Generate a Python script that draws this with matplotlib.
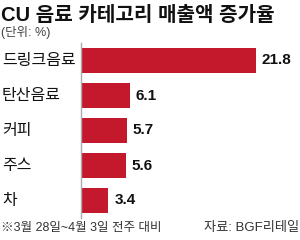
import matplotlib.pyplot as plt

plt.rcParams['font.family'] = ['Liberation Sans', 'Noto Sans CJK KR']

categories = ['드링크음료', '탄산음료', '커피', '주스', '차']
values = [21.8, 6.1, 5.7, 5.6, 3.4]

fig = plt.figure(figsize=(3, 2.4), dpi=100)
ax = fig.add_axes([81 / 300, 22 / 240, 219 / 300, 175 / 240])

y = list(range(len(categories)))
ax.barh(y, values, height=0.71, color='#c4182c', left=0)
for yi, v in zip(y, values):
    ax.text(v + 0.75, yi, '{:.1f}'.format(v), va='center', ha='left',
            fontsize=11, fontweight='bold', color='#111111')

ax.set_ylim(len(categories) - 0.5, -0.5)
ax.set_xlim(0, 27.3)
ax.set_yticks([])
for yi, c in zip(y, categories):
    ax.text(-79 / 219, yi, c, transform=ax.get_yaxis_transform(), ha='left', va='center',
            fontsize=11.5, color='#111111')
ax.set_xticks([])
for s in ['top', 'right', 'bottom']:
    ax.spines[s].set_visible(False)
ax.spines['left'].set_color('#aaaaaa')
ax.spines['left'].set_linewidth(1)

fig.text(0.003, 0.975, 'CU 음료 카테고리 매출액 증가율', fontsize=14.5, fontweight='bold',
         ha='left', va='top', color='#111111')
fig.text(0.003, 0.865, '(단위: %)', fontsize=9, ha='left', va='center', color='#444444')
fig.text(0.003, 0.048, '※3월 28일~4월 3일 전주 대비', fontsize=9, ha='left', va='center',
         color='#333333')
fig.text(0.997, 0.048, '자료: BGF리테일', fontsize=9.5, ha='right', va='center', color='#333333')

fig.savefig('out.png', dpi=100)
